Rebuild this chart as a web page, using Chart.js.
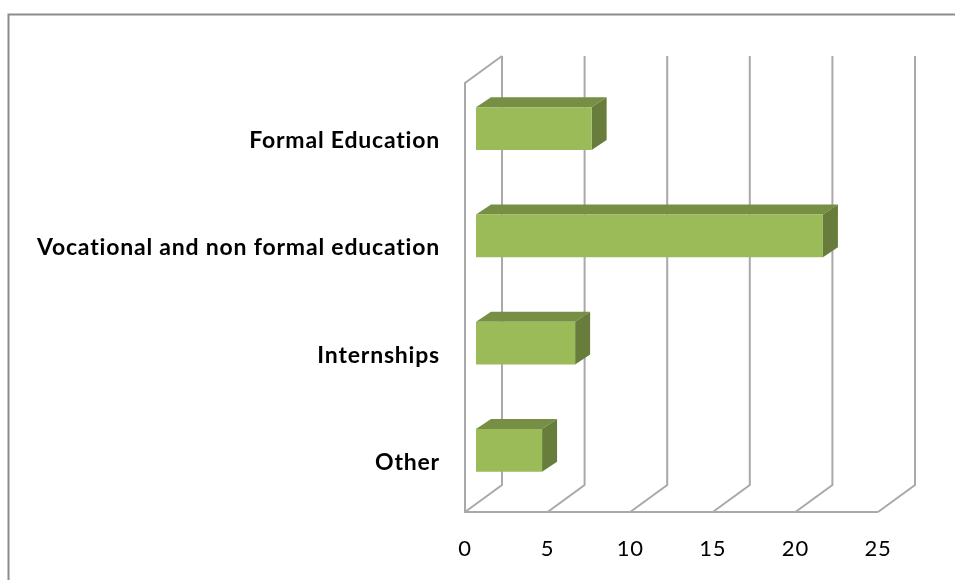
<!DOCTYPE html>
<html>
<head>
<meta charset="utf-8">
<style>
  html, body { margin: 0; padding: 0; background: #fff; }
  canvas { display: block; }
</style>
<script src="https://cdn.jsdelivr.net/npm/chart.js@4"></script>
</head>
<body>
<canvas id="chart" width="955" height="580"></canvas>
<script>
const categories = ['Formal Education', 'Vocational and non formal education', 'Internships', 'Other'];
const values = [7, 21, 6, 4];
const tickLabels = [0, 5, 10, 15, 20, 25];

const wallColor = '#a9a9a9';
const barFront = '#9bbb59';
const barTop = '#778f45';
const barSide = '#687d3c';

// offset of the back wall and of the bars inside the fake 3d box
const wallDx = 37, wallDy = -27;
const barDx = 11, barDy = -8;
const depthDx = 15, depthDy = -10;

const fake3d = {
  id: 'fake3d',
  beforeDraw(chart) {
    const ctx = chart.ctx;
    // the frame is cropped: only its top and left edges are in the picture
    ctx.save();
    ctx.strokeStyle = '#8c8c8c';
    ctx.lineWidth = 2;
    ctx.beginPath();
    ctx.moveTo(8.5, 580);
    ctx.lineTo(8.5, 14.5);
    ctx.lineTo(955, 14.5);
    ctx.stroke();
    ctx.restore();
    // the original font runs wider than Lato
    ctx.letterSpacing = '0.8px';
  },
  beforeDatasetsDraw(chart) {
    const ctx = chart.ctx;
    const x = chart.scales.x;
    const top = chart.chartArea.top, bottom = chart.chartArea.bottom;
    ctx.save();
    ctx.strokeStyle = wallColor;
    ctx.lineWidth = 2;
    tickLabels.forEach(v => {
      const px = x.getPixelForValue(v);
      ctx.beginPath();
      ctx.moveTo(px, bottom);
      ctx.lineTo(px + wallDx, bottom + wallDy);
      ctx.lineTo(px + wallDx, top + wallDy);
      ctx.stroke();
    });
    const x0 = x.getPixelForValue(0), x25 = x.getPixelForValue(25);
    ctx.beginPath();
    ctx.moveTo(x0 + wallDx, top + wallDy);
    ctx.lineTo(x0, top);
    ctx.lineTo(x0, bottom);
    ctx.lineTo(x25, bottom);
    ctx.stroke();
    ctx.restore();

    // depth faces, then shift the library's own bars onto the same plane
    ctx.save();
    chart.getDatasetMeta(0).data.forEach(bar => {
      const l = bar.base + barDx, r = bar.x + barDx;
      const t = bar.y - bar.height / 2 + barDy, b = bar.y + bar.height / 2 + barDy;
      ctx.fillStyle = barTop;
      ctx.beginPath();
      ctx.moveTo(l, t);
      ctx.lineTo(l + depthDx, t + depthDy);
      ctx.lineTo(r + depthDx, t + depthDy);
      ctx.lineTo(r, t);
      ctx.closePath();
      ctx.fill();
      ctx.fillStyle = barSide;
      ctx.beginPath();
      ctx.moveTo(r, t);
      ctx.lineTo(r + depthDx, t + depthDy);
      ctx.lineTo(r + depthDx, b + depthDy);
      ctx.lineTo(r, b);
      ctx.closePath();
      ctx.fill();
    });
    ctx.restore();
    ctx.save();
    ctx.translate(barDx, barDy);
  },
  afterDatasetsDraw(chart) {
    chart.ctx.restore();
  }
};

new Chart(document.getElementById('chart'), {
  type: 'bar',
  data: {
    labels: categories,
    datasets: [{
      data: values,
      backgroundColor: barFront,
      borderWidth: 0,
      categoryPercentage: 1,
      barPercentage: 0.4
    }]
  },
  options: {
    indexAxis: 'y',
    responsive: false,
    animation: false,
    layout: { padding: { left: 0, top: 83, right: 77, bottom: 0 } },
    plugins: { legend: { display: false }, tooltip: { enabled: false } },
    scales: {
      x: {
        min: 0,
        max: 25,
        afterFit(scale) { scale.height = 68; },
        grid: { display: false },
        border: { display: false },
        ticks: {
          stepSize: 5,
          maxRotation: 0,
          padding: 16,
          color: '#000',
          font: { family: 'Lato, sans-serif', size: 22 }
        }
      },
      y: {
        afterFit(scale) { scale.width = 465; },
        grid: { display: false },
        border: { display: false },
        ticks: {
          padding: 17,
          labelOffset: 4,
          color: '#000',
          font: { family: 'Lato, sans-serif', size: 23, weight: 'bold' }
        }
      }
    }
  },
  plugins: [fake3d]
});
</script>
</body>
</html>
